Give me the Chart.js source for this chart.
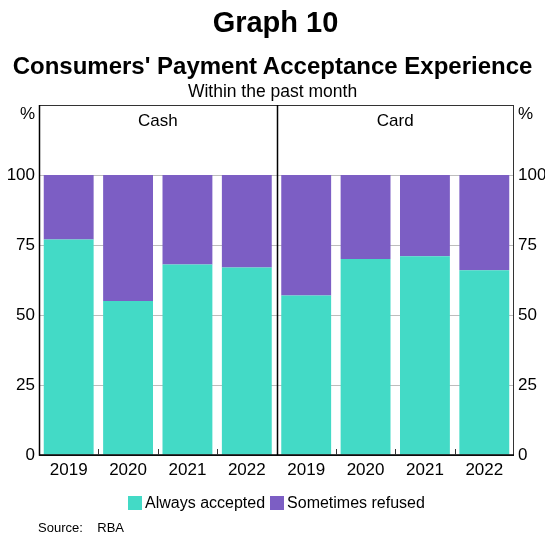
<!DOCTYPE html>
<html lang="en">
<head>
  <meta charset="UTF-8">
  <script src="https://cdn.jsdelivr.net/npm/chart.js"></script>
  <title>Consumers' Payment Acceptance Experience</title>
  <style>
    body {
      margin: 0;
      padding: 0;
      background-color: #fff;
      font-family: "Liberation Sans", Arial, sans-serif;
      color: #000;
    }

    .page {
      position: relative;
      width: 545px;
      height: 533px;
      overflow: hidden;
    }

    .heading {
      position: absolute;
      left: 0;
      width: 545px;
      text-align: center;
      white-space: nowrap;
    }

    canvas {
      position: absolute;
      top: 0;
      left: 0;
    }

    .legend {
      position: absolute;
      left: 128px;
      top: 495px;
      display: flex;
      align-items: center;
      font-size: 16px;
      line-height: 16px;
    }

    .legend span.box {
      display: inline-block;
      width: 14px;
      height: 14px;
      margin-right: 3px;
    }

    .legend .item {
      display: flex;
      align-items: center;
      margin-right: 5px;
    }

    .source {
      position: absolute;
      left: 38px;
      top: 521px;
      font-size: 13px;
      line-height: 13px;
      white-space: pre;
    }
  </style>
</head>
<body>
<div class="page">
  <canvas id="acceptChart" width="545" height="533"></canvas>
  <div class="heading" style="top:8px; left:3px; font-size:29px; line-height:29px; font-weight:bold;">Graph 10</div>
  <div class="heading" style="top:54px; font-size:24px; line-height:24px; font-weight:bold;">Consumers' Payment Acceptance Experience</div>
  <div class="heading" style="top:83px; font-size:17.5px; line-height:17.5px;">Within the past month</div>
  <div class="legend" id="legend"></div>
  <div class="source">Source:    RBA</div>
</div>

<script>
  // Survey years, shown once per panel
  const years = ['2019', '2020', '2021', '2022'];
  const panels = ['Cash', 'Card'];

  // Share of consumers, per cent
  const cashAccepted = [77, 55, 68, 67];
  const cashRefused = [23, 45, 32, 33];
  const cardAccepted = [57, 70, 71, 66];
  const cardRefused = [43, 30, 29, 34];

  const yTicks = [0, 25, 50, 75, 100];
  const seriesNames = ['Always accepted', 'Sometimes refused'];
  const seriesColours = ['#43dac6', '#7c5ec4'];

  const labels = years.concat(years);

  // Legend under the chart
  const legendEl = document.getElementById('legend');
  seriesNames.forEach((name, i) => {
    const item = document.createElement('div');
    item.className = 'item';
    item.innerHTML = `<span class="box" style="background:${seriesColours[i]}"></span>${name}`;
    legendEl.appendChild(item);
  });

  const FONT = '"Liberation Sans", Arial, sans-serif';

  // Plot frame, panel divider, small category ticks, panel titles and % units
  const framePlugin = {
    id: 'framePlugin',
    afterDatasetsDraw(chart) {
      const { ctx, chartArea: a, scales } = chart;
      const x = scales.x;
      ctx.save();

      // outer frame
      ctx.strokeStyle = '#333';
      ctx.lineWidth = 1;
      ctx.strokeRect(Math.round(a.left) + 0.5, Math.round(a.top) + 0.5,
        Math.round(a.right - a.left) - 1, Math.round(a.bottom - a.top));
      ctx.strokeStyle = '#000';
      ctx.lineWidth = 1.5;
      ctx.beginPath();
      ctx.moveTo(a.left + 0.5, a.top);
      ctx.lineTo(a.left + 0.5, a.bottom);
      ctx.lineTo(a.right, a.bottom);
      ctx.stroke();

      // boundaries between categories
      for (let i = 1; i < labels.length; i++) {
        const bx = Math.round((x.getPixelForValue(i - 1) + x.getPixelForValue(i)) / 2) + 0.5;
        ctx.beginPath();
        if (i === years.length) {
          ctx.strokeStyle = '#000';
          ctx.lineWidth = 1.5;
          ctx.moveTo(bx, a.top);
        } else {
          ctx.strokeStyle = '#333';
          ctx.lineWidth = 1;
          ctx.moveTo(bx, a.bottom - 6);
        }
        ctx.lineTo(bx, a.bottom);
        ctx.stroke();
      }

      // panel titles
      ctx.fillStyle = '#000';
      ctx.font = `17px ${FONT}`;
      ctx.textAlign = 'center';
      ctx.textBaseline = 'alphabetic';
      const mid = (x.getPixelForValue(years.length - 1) + x.getPixelForValue(years.length)) / 2;
      ctx.fillText(panels[0], (a.left + mid) / 2, a.top + 21);
      ctx.fillText(panels[1], (mid + a.right) / 2, a.top + 21);

      // units
      ctx.textAlign = 'right';
      ctx.fillText('%', a.left - 4, a.top + 14);
      ctx.textAlign = 'left';
      ctx.fillText('%', a.right + 4, a.top + 14);
      ctx.restore();
    }
  };

  const gridColour = (c) => (c.tick && yTicks.includes(c.tick.value) && c.tick.value !== 0) ? '#bdbdbd' : 'rgba(0,0,0,0)';

  const yAxis = (position, width) => ({
    type: 'linear',
    position: position,
    stacked: true,
    min: 0,
    max: 125,
    afterBuildTicks: (scale) => {
      scale.ticks = yTicks.concat([125]).map(v => ({ value: v }));
    },
    afterFit: (scale) => { scale.width = width; },
    border: { display: false },
    grid: {
      display: position === 'left',
      drawTicks: false,
      color: gridColour,
      lineWidth: 1
    },
    ticks: {
      padding: 4,
      color: '#000',
      font: { family: FONT, size: 17 },
      callback: (v) => (yTicks.includes(v) ? v : '')
    }
  });

  new Chart(document.getElementById('acceptChart'), {
    type: 'bar',
    data: {
      labels: labels,
      datasets: [
        {
          label: seriesNames[0],
          data: cashAccepted.concat(cardAccepted),
          backgroundColor: seriesColours[0],
          borderWidth: 0
        },
        {
          label: seriesNames[1],
          data: cashRefused.concat(cardRefused),
          backgroundColor: seriesColours[1],
          borderWidth: 0
        }
      ]
    },
    options: {
      responsive: false,
      animation: false,
      devicePixelRatio: 1,
      layout: { padding: { top: 105, left: 0, right: 0, bottom: 0 } },
      datasets: {
        bar: { categoryPercentage: 1, barPercentage: 0.84 }
      },
      plugins: {
        legend: { display: false },
        title: { display: false },
        tooltip: { enabled: false }
      },
      scales: {
        x: {
          stacked: true,
          afterFit: (scale) => { scale.height = 78; },
          border: { display: false },
          grid: { display: false },
          ticks: {
            padding: -3,
            maxRotation: 0,
            autoSkip: false,
            color: '#000',
            font: { family: FONT, size: 17 }
          }
        },
        y: yAxis('left', 39),
        y2: yAxis('right', 31)
      }
    },
    plugins: [framePlugin]
  });
</script>
</body>
</html>
